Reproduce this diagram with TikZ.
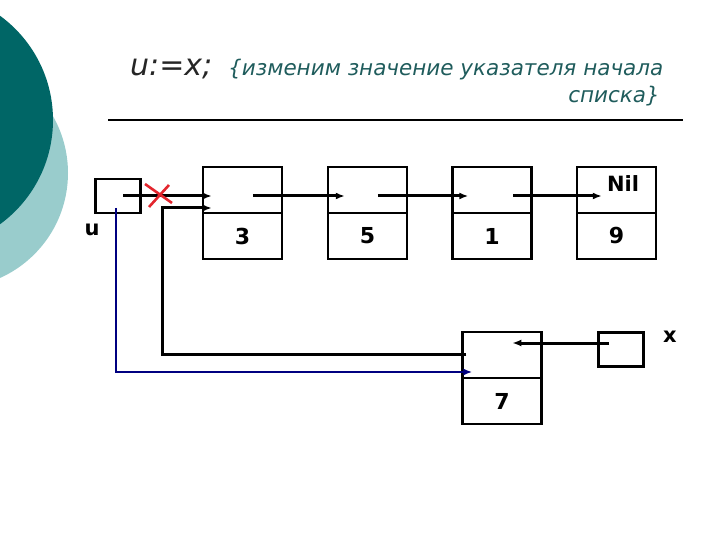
\documentclass[tikz,border=0pt]{standalone}
\usepackage{fontspec}
\setmainfont{DejaVu Sans}
\usetikzlibrary{arrows.meta}
\definecolor{darkteal}{HTML}{006666}
\definecolor{lightteal}{HTML}{99CCCC}
\definecolor{commentcol}{HTML}{1F5C5C}
\definecolor{navyline}{HTML}{000080}
\definecolor{crossred}{HTML}{E3262E}
\begin{document}
\begin{tikzpicture}[x=1pt,y=-1pt,
  cell/.style={draw=black, line width=2.4pt, minimum width=79pt, minimum height=46pt, inner sep=0pt, font=\fontsize{22}{22}\selectfont\bfseries},
  ptrbox/.style={draw=black, line width=2.8pt, minimum width=45pt, minimum height=34pt, inner sep=0pt},
  link/.style={draw=black, line width=3pt, -{Latex[length=9pt,width=7pt]}},
  bluelink/.style={draw=navyline, line width=2.4pt, -{Latex[length=9pt,width=7pt]}},
  lbl/.style={inner sep=0pt, font=\fontsize{21}{21}\selectfont\bfseries},
  crossline/.style={draw=crossred, line width=2.6pt}
]
\useasboundingbox (0,0) rectangle (720,540);
\begin{scope}
  \clip (0,0) rectangle (720,540);
  \fill[lightteal] (-47,173) circle[radius=115];
  \fill[darkteal] (-76,120) circle[radius=129];
\end{scope}

% title
\node[anchor=base west, inner sep=0pt, font=\fontsize{30}{30}\selectfont\itshape, text=black!85] (title) at (130,76) {u:=x;};
\node[anchor=base west, inner sep=0pt, font=\fontsize{21.5}{21.5}\selectfont\itshape, text=commentcol] (comment1) at (228,76) {\{изменим значение указателя начала};
\node[anchor=base east, inner sep=0pt, font=\fontsize{21.5}{21.5}\selectfont\itshape, text=commentcol] (comment2) at (660,103) {списка\}};
\coordinate (ruleL) at (108,120);
\coordinate (ruleR) at (683,120);
\draw[line width=1.5pt] (ruleL) -- (ruleR);

% pointer boxes
\node[ptrbox] (ubox) at (118,196) {};
\node[lbl] (ulabel) at (92,230) {u};
\node[ptrbox] (xbox) at (621,349.5) {};
\node[lbl] (xlabel) at (670,337) {x};

% list cells
\node[cell] (n3p) at (242.5,190) {};
\node[cell] (n3v) at (242.5,236) {3};
\node[cell] (n5p) at (367.5,190) {};
\node[cell] (n5v) at (367.5,236) {5};
\node[cell] (n1p) at (492,190) {};
\node[cell] (n1v) at (492,236) {1};
\node[cell] (n9p) at (616.5,190) {};
\node[cell] (n9v) at (616.5,236) {9};
\node[lbl] (nil) at (623,184) {Nil};
\node[cell] (n7p) at (502,355) {};
\node[cell] (n7v) at (502,401) {7};

% chain links
\draw[link] ([xshift=5pt,yshift=0pt]ubox.center) -- ([shift={(10,6)}]n3p.west);
\draw[link] ([shift={(51,6)}]n3p.west) -- ([shift={(18,6)}]n5p.west);
\draw[link] ([shift={(51,6)}]n5p.west) -- ([shift={(17,6)}]n1p.west);
\draw[link] ([shift={(62,6)}]n1p.west) -- ([shift={(26,6)}]n9p.west);

% red cross over old u pointer
\coordinate (cross) at (159,195);
\draw[crossline] ([shift={(-14,-11)}]cross) -- ([shift={(13,8)}]cross);
\draw[crossline] ([shift={(10,-10)}]cross) -- ([shift={(-10,12)}]cross);

% new node 7 next -> node 3
\coordinate (retcorner) at (162,208);
\draw[link] ([shift={(5,-1)}]n7p.west) -| (retcorner) -- ([shift={(10,18)}]n3p.west);

% u -> node 7
\draw[bluelink] ([shift={(-2,12)}]ubox.center) |- ([shift={(11,17)}]n7p.west);

% x -> node 7
\draw[link] ([shift={(-12,-6.5)}]xbox.center) -- ([shift={(51,-12)}]n7p.west);
\end{tikzpicture}
\end{document}
